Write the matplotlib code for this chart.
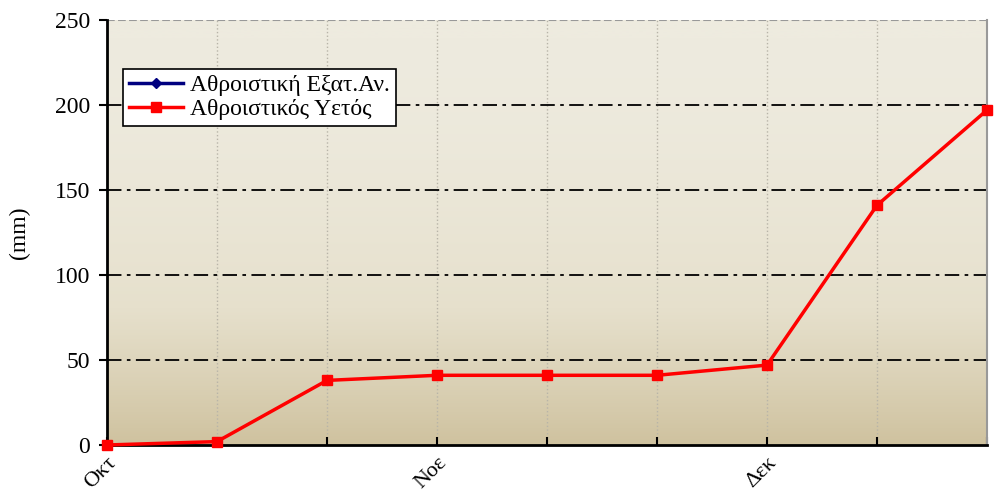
import numpy as np
import matplotlib.pyplot as plt
from matplotlib.colors import LinearSegmentedColormap

# cumulative values per 10-day period
periods = list(range(9))
rain_cum = [0, 2, 38, 41, 41, 41, 47, 141, 197]
evap_cum = [0]
tick_labels = ['Οκτ', '', '', 'Νοε', '', '', 'Δεκ', '', '']

plt.rcParams['font.family'] = ['Liberation Serif', 'DejaVu Serif']
fs = 17

fig = plt.figure(figsize=(9.95, 4.94), dpi=100)
ax = fig.add_axes([107/995, 1 - 445/494, 880/995, 425/494])

# background gradient (light at top, tan at bottom)
cmap = LinearSegmentedColormap.from_list('bg', ['#eeebdf', '#e6e0cc', '#cfc29f'])
grad = (np.linspace(0, 1, 300) ** 1.8).reshape(-1, 1)
ax.imshow(grad, cmap=cmap, aspect='auto', extent=[0, 1, 0, 1],
          transform=ax.transAxes, zorder=0, interpolation='bilinear')

for x in periods[1:-1]:
    ax.axvline(x, color='#b8b4a8', linestyle=':', linewidth=1, zorder=1)
for y in [50, 100, 150, 200]:
    ax.axhline(y, color='black', linestyle=(0, (8, 3, 2, 3)), linewidth=1.3, zorder=1)
ax.axhline(250, color='#999999', linestyle='--', linewidth=1.5, zorder=1)

ax.plot(periods[:len(evap_cum)], evap_cum, color='#000080', marker='D', markersize=5,
        linewidth=2.5, label='Αθροιστική Εξατ.Αν.', zorder=3, clip_on=False)
ax.plot(periods, rain_cum, color='#ff0000', marker='s', markersize=7,
        linewidth=2.5, label='Αθροιστικός Υετός', zorder=4, clip_on=False)

ax.set_xlim(0, 8)
ax.set_ylim(0, 250)
ax.set_yticks([0, 50, 100, 150, 200, 250])
ax.set_xticks(periods[:9])
ax.set_xticklabels(tick_labels, rotation=45, ha='right', rotation_mode='anchor', fontsize=16)
ax.tick_params(axis='y', labelsize=fs, direction='out', length=6, width=1.5, pad=6)
ax.tick_params(axis='x', direction='in', length=6, width=1.5, pad=6)
ax.spines['left'].set_linewidth(2)
ax.spines['bottom'].set_linewidth(2)
ax.spines['right'].set_color('#999999')
ax.spines['right'].set_linewidth(1.5)
ax.spines['top'].set_visible(False)
ax.set_ylabel('(mm)', fontsize=fs, labelpad=18)

leg = ax.legend(loc='upper left', bbox_to_anchor=(16/880, 1 - 49/425), fontsize=fs,
                frameon=True, fancybox=False, framealpha=1, edgecolor='black',
                handlelength=2.3, handletextpad=0.3, borderpad=0.25,
                labelspacing=0.1, borderaxespad=0)
leg.get_frame().set_linewidth(1.2)

plt.savefig('out.png', dpi=100)
plt.close()
